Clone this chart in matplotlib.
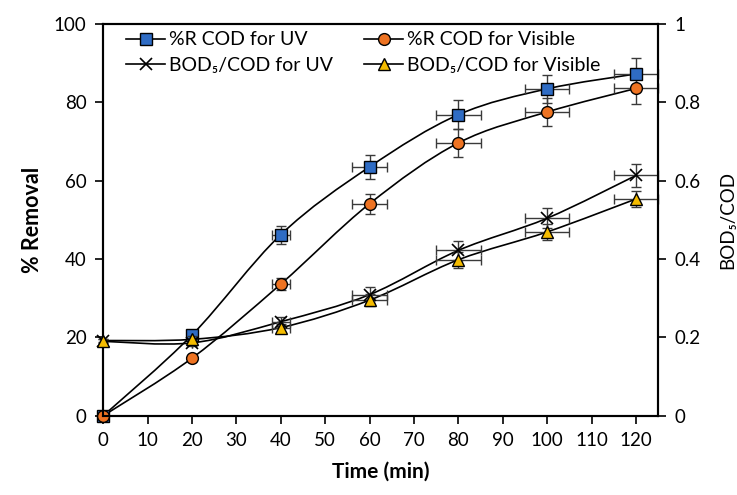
import matplotlib
matplotlib.use('Agg')
import matplotlib.pyplot as plt
from matplotlib.path import Path
from matplotlib.patches import PathPatch
from matplotlib.lines import Line2D

plt.rcParams['font.family'] = ['Lato', 'DejaVu Sans']

# data
time = [0, 20, 40, 60, 80, 100, 120]
cod_uv = [0, 20.6, 46.2, 63.5, 76.8, 83.4, 87.2]
cod_vis = [0, 14.7, 33.6, 54.1, 69.6, 77.5, 83.5]
bod_uv = [0.19, 0.186, 0.24, 0.309, 0.422, 0.504, 0.613]
bod_vis = [0.192, 0.195, 0.225, 0.295, 0.398, 0.469, 0.553]

time_err = [0, 0, 2, 4, 5, 5, 5]
cod_uv_err = [0, 0.5, 2.3, 3, 3.7, 3.5, 4]
cod_vis_err = [0, 0.5, 1.5, 2.5, 3.5, 3.5, 4]
bod_uv_err = [0.005, 0.008, 0.012, 0.02, 0.025, 0.025, 0.03]
bod_vis_err = [0.005, 0.008, 0.01, 0.015, 0.02, 0.02, 0.02]

labels = ['%R COD for UV', '%R COD for Visible',
          'BOD\u2085/COD for UV', 'BOD\u2085/COD for Visible']


def smooth_curve(ax, x, y):
    # excel-like smoothed line: cubic bezier through the points
    n = len(x)
    verts = [(x[0], y[0])]
    codes = [Path.MOVETO]
    for i in range(n - 1):
        i0 = max(i - 1, 0)
        i3 = min(i + 2, n - 1)
        c1 = (x[i] + (x[i + 1] - x[i0]) / 6, y[i] + (y[i + 1] - y[i0]) / 6)
        c2 = (x[i + 1] - (x[i3] - x[i]) / 6, y[i + 1] - (y[i3] - y[i]) / 6)
        verts += [c1, c2, (x[i + 1], y[i + 1])]
        codes += [Path.CURVE4] * 3
    ax.add_patch(PathPatch(Path(verts, codes), fill=False, edgecolor='black',
                           lw=1.2, transform=ax.transData, clip_on=False))


fig = plt.figure(figsize=(7.37, 4.95), dpi=100)
ax = fig.add_axes([0.14, 0.16, 0.753, 0.792])
ax2 = ax.twinx()

ecol = '#3a3a3a'
styles = [
    (ax, cod_uv, cod_uv_err, dict(marker='s', mfc='#2F6CC4', mec='black', ms=8)),
    (ax, cod_vis, cod_vis_err, dict(marker='o', mfc='#EE7322', mec='black', ms=8.5)),
    (ax2, bod_uv, bod_uv_err, dict(marker='x', mec='black', ms=8.5, mew=1.2)),
    (ax2, bod_vis, bod_vis_err, dict(marker='^', mfc='#F5BC00', mec='black', ms=8.5)),
]

handles = []
for a, y, ye, st in styles:
    a.errorbar(time, y, yerr=ye, xerr=time_err, fmt='none', ecolor=ecol,
               elinewidth=1, capsize=3.5, capthick=1, clip_on=False)
    smooth_curve(a, time, y)
    a.plot(time, y, linestyle='none', clip_on=False, zorder=5, **st)
    handles.append(Line2D([], [], color='black', lw=1.2, **st))

ax.set_xlim(0, 125)
ax.set_ylim(0, 100)
ax2.set_ylim(0, 1)
ax.set_xticks(range(0, 121, 10))
ax.set_yticks(range(0, 101, 20))
ax2.set_yticks([0, 0.2, 0.4, 0.6, 0.8, 1.0])
ax2.set_yticklabels(['0', '0.2', '0.4', '0.6', '0.8', '1'])

for a in (ax, ax2):
    a.tick_params(direction='out', length=6, width=1.2, labelsize=13.5, pad=6)
    for s in a.spines.values():
        s.set_linewidth(1.5)

ax.set_xlabel('Time (min)', fontsize=15, fontweight='bold', labelpad=9)
ax.set_ylabel('% Removal', fontsize=15.5, fontweight='bold', labelpad=8)
ax2.set_ylabel('BOD\u2085/COD', fontsize=13.5, labelpad=13)

# reorder so rows read: %R UV, %R Visible / BOD UV, BOD Visible
order = [0, 2, 1, 3]
ax2.legend([handles[i] for i in order], [labels[i] for i in order], ncol=2,
           loc='upper left', bbox_to_anchor=(0.01, 1.025),
           frameon=False, fontsize=14, handlelength=2.0, columnspacing=1.6,
           labelspacing=0.45, handletextpad=0.2)

fig.savefig('out.png', dpi=100)
